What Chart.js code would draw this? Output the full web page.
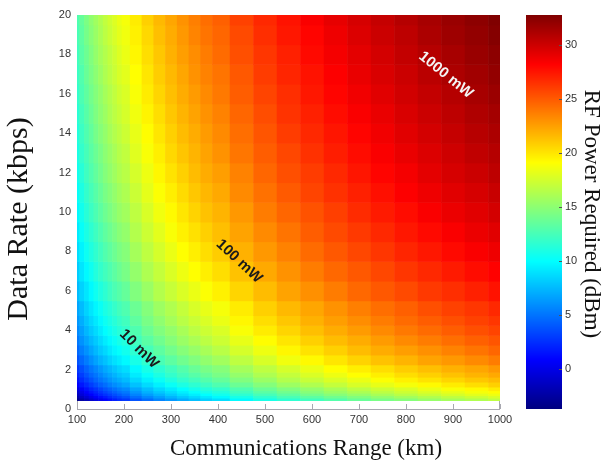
<!DOCTYPE html>
<html>
<head>
<meta charset="utf-8">
<script src="https://cdn.jsdelivr.net/npm/chart.js"></script>
<style>
html,body{margin:0;padding:0;background:#fff;}
#wrap{position:relative;width:611px;height:461px;}
</style>
</head>
<body>
<div id="wrap"><canvas id="c" width="611" height="461"></canvas></div>
<script>
// ---- data ----
const ranges = [100,110,120,130,140,150,160,170,180,190,200,225,250,275,300,325,350,375,400,450,500,550,600,650,700,750,800,850,900,950,1000];
const rates = [0.5,0.625,0.75,0.875,1.0,1.25,1.5,1.75,2.0,2.5,3.0,3.5,4.0,4.5,5,6,7,8,9,10,11,12,13,14,15,16,17,18,19,20];
// RF power required (dBm); one row per rate, one column per range
const power = [
[-3.2,-2.4,-1.7,-1.0,-0.3,0.3,0.9,1.4,1.9,2.4,2.8,3.8,4.7,5.6,6.3,7.0,7.7,8.3,8.8,9.8,10.8,11.6,12.3,13.0,13.7,14.3,14.8,15.4,15.9,16.3,16.8],
[-2.3,-1.4,-0.7,0.0,0.7,1.3,1.8,2.4,2.9,3.3,3.8,4.8,5.7,6.5,7.3,8.0,8.6,9.2,9.8,10.8,11.7,12.6,13.3,14.0,14.6,15.2,15.8,16.3,16.8,17.3,17.7],
[-1.5,-0.6,0.1,0.8,1.5,2.1,2.6,3.1,3.6,4.1,4.6,5.6,6.5,7.3,8.1,8.8,9.4,10.0,10.6,11.6,12.5,13.3,14.1,14.8,15.4,16.0,16.6,17.1,17.6,18.1,18.5],
[-0.8,0.0,0.8,1.5,2.1,2.7,3.3,3.8,4.3,4.8,5.2,6.2,7.2,8.0,8.7,9.4,10.1,10.7,11.2,12.3,13.2,14.0,14.8,15.5,16.1,16.7,17.3,17.8,18.3,18.8,19.2],
[-0.2,0.6,1.4,2.1,2.7,3.3,3.9,4.4,4.9,5.4,5.8,6.8,7.7,8.6,9.3,10.0,10.7,11.3,11.8,12.8,13.8,14.6,15.3,16.0,16.7,17.3,17.8,18.4,18.9,19.3,19.8],
[0.8,1.6,2.3,3.0,3.7,4.3,4.8,5.4,5.9,6.3,6.8,7.8,8.7,9.5,10.3,11.0,11.6,12.2,12.8,13.8,14.7,15.6,16.3,17.0,17.7,18.3,18.8,19.3,19.8,20.3,20.8],
[1.5,2.4,3.1,3.8,4.5,5.1,5.6,6.2,6.7,7.1,7.6,8.6,9.5,10.3,11.1,11.8,12.4,13.0,13.6,14.6,15.5,16.4,17.1,17.8,18.4,19.0,19.6,20.1,20.6,21.1,21.5],
[2.2,3.0,3.8,4.5,5.1,5.7,6.3,6.8,7.3,7.8,8.2,9.3,10.2,11.0,11.8,12.5,13.1,13.7,14.3,15.3,16.2,17.0,17.8,18.5,19.1,19.7,20.3,20.8,21.3,21.8,22.2],
[2.8,3.6,4.4,5.1,5.7,6.3,6.9,7.4,7.9,8.4,8.8,9.8,10.8,11.6,12.3,13.0,13.7,14.3,14.8,15.9,16.8,17.6,18.4,19.1,19.7,20.3,20.9,21.4,21.9,22.3,22.8],
[3.8,4.6,5.3,6.0,6.7,7.3,7.8,8.4,8.9,9.3,9.8,10.8,11.7,12.6,13.3,14.0,14.6,15.2,15.8,16.8,17.7,18.6,19.3,20.0,20.7,21.3,21.8,22.4,22.8,23.3,23.8],
[4.6,5.4,6.1,6.8,7.5,8.1,8.6,9.2,9.7,10.1,10.6,11.6,12.5,13.3,14.1,14.8,15.4,16.0,16.6,17.6,18.5,19.4,20.1,20.8,21.5,22.1,22.6,23.1,23.6,24.1,24.6],
[5.2,6.1,6.8,7.5,8.1,8.7,9.3,9.8,10.3,10.8,11.2,12.3,13.2,14.0,14.8,15.5,16.1,16.7,17.3,18.3,19.2,20.0,20.8,21.5,22.1,22.7,23.3,23.8,24.3,24.8,25.2],
[5.8,6.6,7.4,8.1,8.7,9.3,9.9,10.4,10.9,11.4,11.8,12.8,13.8,14.6,15.3,16.0,16.7,17.3,17.8,18.9,19.8,20.6,21.4,22.1,22.7,23.3,23.9,24.4,24.9,25.4,25.8],
[6.3,7.1,7.9,8.6,9.2,9.8,10.4,10.9,11.4,11.9,12.3,13.4,14.3,15.1,15.9,16.6,17.2,17.8,18.4,19.4,20.3,21.1,21.9,22.6,23.2,23.8,24.4,24.9,25.4,25.9,26.3],
[6.8,7.6,8.4,9.1,9.7,10.3,10.9,11.4,11.9,12.4,12.8,13.8,14.7,15.6,16.3,17.0,17.7,18.3,18.8,19.8,20.8,21.6,22.3,23.0,23.7,24.3,24.8,25.4,25.9,26.3,26.8],
[7.6,8.4,9.1,9.8,10.5,11.1,11.6,12.2,12.7,13.1,13.6,14.6,15.5,16.4,17.1,17.8,18.4,19.0,19.6,20.6,21.5,22.4,23.1,23.8,24.5,25.1,25.6,26.2,26.6,27.1,27.6],
[8.2,9.1,9.8,10.5,11.2,11.8,12.3,12.8,13.3,13.8,14.3,15.3,16.2,17.0,17.8,18.5,19.1,19.7,20.3,21.3,22.2,23.0,23.8,24.5,25.1,25.7,26.3,26.8,27.3,27.8,28.2],
[8.8,9.6,10.4,11.1,11.7,12.3,12.9,13.4,13.9,14.4,14.8,15.9,16.8,17.6,18.4,19.1,19.7,20.3,20.9,21.9,22.8,23.6,24.4,25.1,25.7,26.3,26.9,27.4,27.9,28.4,28.8],
[9.3,10.2,10.9,11.6,12.2,12.8,13.4,13.9,14.4,14.9,15.3,16.4,17.3,18.1,18.9,19.6,20.2,20.8,21.4,22.4,23.3,24.1,24.9,25.6,26.2,26.8,27.4,27.9,28.4,28.9,29.3],
[9.8,10.6,11.4,12.1,12.7,13.3,13.9,14.4,14.9,15.4,15.8,16.8,17.7,18.6,19.3,20.0,20.7,21.3,21.8,22.8,23.8,24.6,25.3,26.0,26.7,27.3,27.8,28.4,28.9,29.3,29.8],
[10.2,11.0,11.8,12.5,13.1,13.7,14.3,14.8,15.3,15.8,16.2,17.2,18.2,19.0,19.7,20.4,21.1,21.7,22.2,23.3,24.2,25.0,25.8,26.5,27.1,27.7,28.3,28.8,29.3,29.7,30.2],
[10.6,11.4,12.2,12.9,13.5,14.1,14.7,15.2,15.7,16.2,16.6,17.6,18.5,19.4,20.1,20.8,21.5,22.1,22.6,23.6,24.6,25.4,26.1,26.8,27.5,28.1,28.6,29.2,29.7,30.1,30.6],
[10.9,11.8,12.5,13.2,13.8,14.4,15.0,15.5,16.0,16.5,16.9,18.0,18.9,19.7,20.5,21.2,21.8,22.4,23.0,24.0,24.9,25.7,26.5,27.2,27.8,28.4,29.0,29.5,30.0,30.5,30.9],
[11.2,12.1,12.8,13.5,14.2,14.8,15.3,15.9,16.4,16.8,17.3,18.3,19.2,20.0,20.8,21.5,22.1,22.7,23.3,24.3,25.2,26.1,26.8,27.5,28.1,28.7,29.3,29.8,30.3,30.8,31.2],
[11.5,12.4,13.1,13.8,14.5,15.1,15.6,16.2,16.7,17.1,17.6,18.6,19.5,20.3,21.1,21.8,22.4,23.0,23.6,24.6,25.5,26.4,27.1,27.8,28.4,29.0,29.6,30.1,30.6,31.1,31.5],
[11.8,12.7,13.4,14.1,14.7,15.3,15.9,16.4,16.9,17.4,17.8,18.9,19.8,20.6,21.4,22.1,22.7,23.3,23.9,24.9,25.8,26.6,27.4,28.1,28.7,29.3,29.9,30.4,30.9,31.4,31.8],
[12.1,12.9,13.7,14.4,15.0,15.6,16.2,16.7,17.2,17.7,18.1,19.1,20.0,20.9,21.6,22.3,23.0,23.6,24.1,25.1,26.1,26.9,27.6,28.3,29.0,29.6,30.1,30.7,31.2,31.6,32.1],
[12.3,13.2,13.9,14.6,15.3,15.9,16.4,16.9,17.4,17.9,18.4,19.4,20.3,21.1,21.9,22.6,23.2,23.8,24.4,25.4,26.3,27.1,27.9,28.6,29.2,29.8,30.4,30.9,31.4,31.9,32.3],
[12.6,13.4,14.2,14.9,15.5,16.1,16.7,17.2,17.7,18.2,18.6,19.6,20.5,21.4,22.1,22.8,23.5,24.1,24.6,25.6,26.6,27.4,28.1,28.8,29.5,30.1,30.6,31.2,31.7,32.1,32.6],
[12.8,13.6,14.4,15.1,15.7,16.3,16.9,17.4,17.9,18.4,18.8,19.8,20.8,21.6,22.3,23.0,23.7,24.3,24.8,25.9,26.8,27.6,28.4,29.1,29.7,30.3,30.9,31.4,31.9,32.3,32.8]
];
const xTicks = [100,200,300,400,500,600,700,800,900,1000];
const yTicks = [0,2,4,6,8,10,12,14,16,18,20];
const cbTicks = [0,5,10,15,20,25,30];
const powerMin = -3.7;
const powerMax = 32.8;
const contourTexts = ['10 mW','100 mW','1000 mW'];
const contourRange = [232, 445, 885];
const contourRate = [3.05, 7.5, 16.95];

// ---- styles ----
const labelStyle = [
  {angle: 45, color: '#1b1b1b'},
  {angle: 43, color: '#1b1b1b'},
  {angle: 39, color: '#f4f4f4'}
];
const tickFont = {family: '"Liberation Sans", Arial, sans-serif', size: 11};
const titleFamily = '"Liberation Serif", "Times New Roman", serif';

function jet(v) {
  const t = Math.min(1, Math.max(0, (v - powerMin) / (powerMax - powerMin)));
  const c = k => Math.round(255 * Math.min(1, Math.max(0, 1.5 - Math.abs(4 * t - k))));
  return 'rgb(' + c(3) + ',' + c(2) + ',' + c(1) + ')';
}
function edges(cs) {
  const e = [];
  for (let i = 0; i <= cs.length; i++) {
    if (i === 0) e.push(cs[0] - (cs[1] - cs[0]) / 2);
    else if (i === cs.length) e.push(cs[i - 1] + (cs[i - 1] - cs[i - 2]) / 2);
    else e.push((cs[i - 1] + cs[i]) / 2);
  }
  return e;
}

const heatmapPlugin = {
  id: 'heatmap',
  beforeDatasetsDraw(chart) {
    const {ctx, chartArea: a, scales: {x, y, cb}} = chart;
    ctx.save();
    ctx.strokeStyle = '#a8a8b0';
    ctx.lineWidth = 1;
    ctx.strokeRect(a.left + 0.5, a.top + 0.5, a.right - a.left - 1, a.bottom - a.top);
    xTicks.forEach(v => {
      const px = Math.round(x.getPixelForValue(v)) + 0.5;
      ctx.beginPath(); ctx.moveTo(px, a.bottom); ctx.lineTo(px, a.bottom - 5); ctx.stroke();
    });
    ctx.beginPath(); ctx.rect(a.left, a.top, a.right - a.left, a.bottom - a.top); ctx.clip();
    const xe = edges(ranges), ye = edges(rates);
    for (let j = 0; j < rates.length; j++) {
      const y0 = y.getPixelForValue(ye[j]), y1 = y.getPixelForValue(ye[j + 1]);
      for (let i = 0; i < ranges.length; i++) {
        const x0 = x.getPixelForValue(xe[i]), x1 = x.getPixelForValue(xe[i + 1]);
        ctx.fillStyle = jet(power[j][i]);
        ctx.fillRect(x0, y1, x1 - x0 + 0.6, y0 - y1 + 0.6);
      }
    }
    ctx.restore();

    // colour bar
    ctx.save();
    const bx0 = cb.left + 26, bx1 = cb.left + 62;
    for (let py = Math.floor(cb.top); py < cb.bottom; py++) {
      ctx.fillStyle = jet(cb.getValueForPixel(py + 0.5));
      ctx.fillRect(bx0, py, bx1 - bx0, 1);
    }
    ctx.strokeStyle = '#555';
    ctx.lineWidth = 1;
    cbTicks.forEach(v => {
      const py = Math.round(cb.getPixelForValue(v)) + 0.5;
      ctx.beginPath(); ctx.moveTo(bx1 - 3, py); ctx.lineTo(bx1, py); ctx.stroke();
    });
    ctx.restore();
  },
  afterDraw(chart) {
    const {ctx, scales: {x, y}} = chart;
    ctx.save();
    ctx.font = 'bold 15px "Liberation Sans", Arial, sans-serif';
    ctx.textAlign = 'center';
    ctx.textBaseline = 'middle';
    contourTexts.forEach((t, i) => {
      ctx.save();
      ctx.translate(x.getPixelForValue(contourRange[i]), y.getPixelForValue(contourRate[i]));
      ctx.rotate(labelStyle[i].angle * Math.PI / 180);
      ctx.fillStyle = labelStyle[i].color;
      ctx.fillText(t, 0, 0);
      ctx.restore();
    });
    ctx.fillStyle = '#111';
    ctx.font = '23px ' + titleFamily;
    ctx.fillText('Communications Range (km)', 306, 449);
    ctx.save();
    ctx.translate(19, 219);
    ctx.rotate(-Math.PI / 2);
    ctx.font = '30px ' + titleFamily;
    ctx.fillText('Data Rate (kbps)', 0, 0);
    ctx.restore();
    ctx.save();
    ctx.translate(591, 214);
    ctx.rotate(Math.PI / 2);
    ctx.font = '23px ' + titleFamily;
    ctx.fillText('RF Power Required (dBm)', 0, 0);
    ctx.restore();
    ctx.restore();
  }
};

new Chart(document.getElementById('c'), {
  type: 'scatter',
  data: {datasets: [{data: [], xAxisID: 'x', yAxisID: 'y'}]},
  options: {
    responsive: false,
    animation: false,
    devicePixelRatio: 1,
    layout: {padding: {top: 15, left: 0, right: 0, bottom: 0}},
    plugins: {legend: {display: false}, tooltip: {enabled: false}},
    scales: {
      x: {
        type: 'linear', position: 'bottom', min: 100, max: 1000,
        afterBuildTicks: s => { s.ticks = xTicks.map(v => ({value: v})); },
        afterFit: s => { s.height = 52; },
        grid: {display: false, drawTicks: false},
        border: {display: false},
        ticks: {font: tickFont, color: '#333', padding: 4, maxRotation: 0, autoSkip: false, callback: v => String(v)}
      },
      y: {
        type: 'linear', position: 'left', min: 0, max: 20,
        afterBuildTicks: s => { s.ticks = yTicks.map(v => ({value: v})); },
        afterFit: s => { s.width = 77; },
        grid: {display: false, drawTicks: false},
        border: {display: false},
        ticks: {font: tickFont, color: '#333', padding: 6, autoSkip: false, callback: v => String(v)}
      },
      cb: {
        type: 'linear', position: 'right', min: powerMin, max: powerMax,
        afterBuildTicks: s => { s.ticks = cbTicks.map(v => ({value: v})); },
        afterFit: s => { s.width = 111; },
        grid: {display: false, drawTicks: true, tickLength: 62},
        border: {display: false},
        ticks: {font: tickFont, color: '#333', padding: 3, autoSkip: false, callback: v => String(v)}
      }
    }
  },
  plugins: [heatmapPlugin]
});
</script>
</body>
</html>
